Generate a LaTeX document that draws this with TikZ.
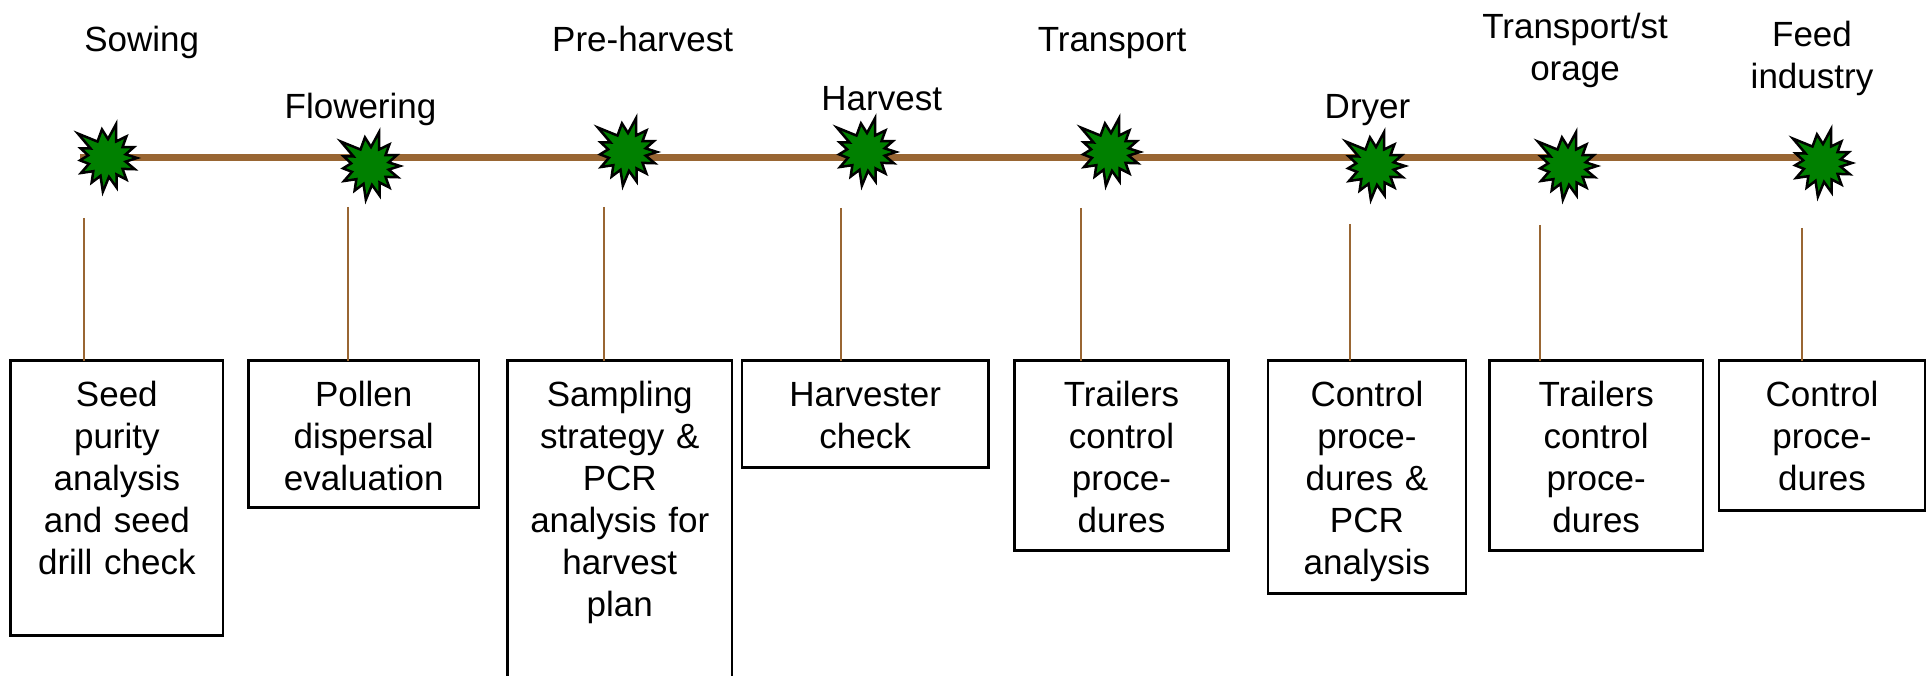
\documentclass[tikz,border=0pt]{standalone}
\usepackage{fontspec}
\setmainfont{Liberation Sans}
\definecolor{timebrown}{RGB}{153,102,51}
\definecolor{burstgreen}{RGB}{0,128,0}
\tikzset{
  burst/.pic={
    \draw[fill=burstgreen, draw=black, line width=2.5pt, line join=miter, miter limit=10]
      (140:38pt) -- (120:19pt) -- (100:29pt) -- (87:19pt) -- (75:35pt) -- (61:19pt)
      -- (48:29pt) -- (35:19pt) -- (22:29pt) -- (11:19pt) -- (0:30pt) -- (-11:19pt)
      -- (-22:30pt) -- (-35:19pt) -- (-48:29pt) -- (-60:19pt) -- (-72:31pt) -- (-84:19pt)
      -- (-97:34pt) -- (-110:19pt) -- (-122:29pt) -- (-136:19pt) -- (-150:30pt) -- (-162:19pt)
      -- (-175:27pt) -- (172:19pt) -- (160:28pt) -- (150:19pt) -- cycle;
  },
  stepbox/.style={draw=black, line width=2.5pt, inner sep=0pt, outer sep=0pt,
    anchor=base, align=center, text height=46pt,
    font=\fontsize{35pt}{42pt}\selectfont},
  phase/.style={inner sep=0pt, anchor=base, align=center, text width=200pt,
    font=\fontsize{35pt}{42pt}\selectfont},
  tick/.style={draw=timebrown, line width=2pt},
  timeline/.style={draw=timebrown, line width=7pt}
}
\begin{document}
\begin{tikzpicture}[x=1pt, y=-1pt]
\useasboundingbox (0,0) rectangle (1928,676);
\clip (0,0) rectangle (1928,676);

% timeline
\coordinate (ts) at (80,158);
\coordinate (te) at (1800,158);
\draw[timeline] (ts) -- (te);

% bursts
\pic at (107,158) {burst};
\pic at (370,166) {burst};
\pic at (627,152) {burst};
\pic at (866,152) {burst};
\pic at (1110,152) {burst};
\pic at (1375,166) {burst};
\pic at (1567,166) {burst};
\pic at (1822,163) {burst};

% phase labels
\node[phase] (p1) at (141.7,51.7) {Sowing};
\node[phase] (p2) at (360.5,118.3) {Flowering};
\node[phase] (p3) at (642.6,51.7) {Pre-harvest};
\node[phase] (p4) at (881.7,111) {Harvest};
\node[phase] (p5) at (1112,51.7) {Transport};
\node[phase] (p6) at (1367.5,118.3) {Dryer};
\node[phase] (p7) at (1575,38.3) {Transport/st\\orage};
\node[phase, text width=150pt] (p8) at (1812,46.7) {Feed\\industry};

% boxes
\node[stepbox, text width=212.3pt, text depth=229pt] (b1) at (116.85,406.7)
  {Seed\\purity\\analysis\\and seed\\drill check};
\node[stepbox, text width=230.3pt, text depth=101pt] (b2) at (363.75,406.7)
  {Pollen\\dispersal\\evaluation};
\node[stepbox, text width=224.5pt, text depth=293pt] (b3) at (619.75,406.7)
  {Sampling\\strategy \&\\PCR\\analysis for\\harvest\\plan};
\node[stepbox, text width=246.8pt, text depth=60.6pt] (b4) at (865.2,406.7)
  {Harvester\\check};
\node[stepbox, text width=214pt, text depth=144pt] (b5) at (1121.5,406.7)
  {Trailers\\control\\proce-\\dures};
\node[stepbox, text width=197.8pt, text depth=186.6pt] (b6) at (1366.9,406.7)
  {Control\\proce-\\dures \&\\PCR\\analysis};
\node[stepbox, text width=213.6pt, text depth=144pt] (b7) at (1596.2,406.7)
  {Trailers\\control\\proce-\\dures};
\node[stepbox, text width=206pt, text depth=104pt] (b8) at (1822,406.7)
  {Control\\proce-\\dures};

% ticks
\coordinate (t1) at (83.5,218);
\coordinate (t2) at (347.5,207);
\coordinate (t3) at (603.5,207);
\coordinate (t4) at (841,208);
\coordinate (t5) at (1081,208);
\coordinate (t6) at (1350,224);
\coordinate (t7) at (1540,225);
\coordinate (t8) at (1801.5,228);
\foreach \i in {1,...,8}{
  \draw[tick] (t\i) -- (t\i |- b\i.north);
}
\end{tikzpicture}
\end{document}
